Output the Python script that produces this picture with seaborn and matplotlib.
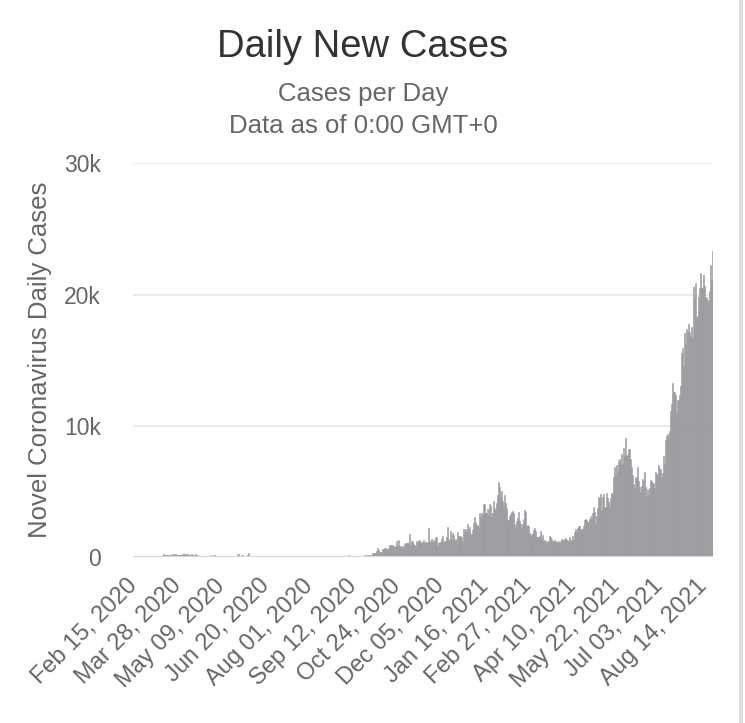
import matplotlib
matplotlib.use("Agg")
import matplotlib.pyplot as plt
import matplotlib.transforms as mtransforms
import numpy as np
import pandas as pd
import seaborn as sns

# daily new cases (starts 2020-02-15)
feb_2020 = [0, 0, 0, 0, 0, 0, 0, 0, 0, 0, 0, 1, 0, 0, 0]
mar_2020 = [0, 4, 7, 14, 5, 28, 10, 0, 18, 1, 10, 11, 1, 41, 190, 125, 120, 117, 110, 130,
            153, 123, 212, 106, 172, 235, 130, 159, 150, 140, 156]
apr_2020 = [142, 208, 217, 217, 179, 131, 170, 156, 109, 118, 184, 153, 134, 170, 85, 110, 69, 54, 84, 36,
            57, 50, 71, 88, 51, 38, 40, 31, 94, 57]
may_2020 = [69, 105, 122, 55, 30, 45, 39, 68, 67, 54, 67, 16, 36, 40, 36, 17, 22, 47, 37, 31,
            50, 78, 48, 60, 172, 187, 15, 10, 103, 30, 38]
jun_2020 = [20, 38, 93, 277, 19, 37, 19, 7, 2, 8, 31, 33, 6, 13, 41, 17, 21, 10, 11, 13,
            21, 15, 4, 4, 4, 3, 6, 4, 2, 6]
jul_2020 = [1, 3, 7, 9, 2, 5, 4, 1, 13, 8, 12, 11, 15, 14, 8, 8, 3, 6, 8, 2,
            7, 5, 15, 23, 20, 10, 18, 4, 8, 17, 9]
aug_2020 = [4, 19, 3, 7, 2, 7, 3, 7, 20, 21, 19, 13, 13, 8, 7, 15, 6, 5, 8, 9,
            5, 9, 15, 14, 19, 12, 15, 5, 7, 2, 3]
sep_2020 = [6, 4, 7, 5, 4, 19, 62, 100, 13, 8, 24, 10, 13, 2, 13, 21, 11, 15, 23, 10,
            57, 82, 147, 71, 111, 82, 115, 150, 101, 89]
oct_2020 = [260, 287, 317, 293, 432, 691, 489, 375, 354, 374, 561, 563, 660, 660, 589, 629, 869, 871, 865, 862,
            732, 847, 710, 1228, 823, 1240, 835, 801, 649, 799, 659]
nov_2020 = [957, 1054, 1054, 1032, 1009, 1755, 852, 1168, 972, 869, 822, 1210, 1109, 1208, 1242, 1041, 1104, 1111, 1290, 1049,
            1096, 1089, 1041, 2188, 1212, 1109, 1315, 1096, 1312, 1109]
dec_2020 = [1472, 851, 1075, 1141, 1123, 1335, 1600, 1123, 1219, 1220, 1478, 2234, 1229, 1371, 1937, 1295, 1772, 1683, 1197, 1340,
            1229, 1884, 1599, 1581, 1526, 1196, 2123, 1887, 2091, 1870, 2525]
jan_2021 = [2068, 2295, 1704, 1741, 2027, 2593, 3027, 2643, 2451, 2433, 2232, 3309, 2985, 3337, 3211, 4029, 3346, 3306, 3631, 3170,
            4008, 3876, 3048, 3346, 4275, 3585, 3680, 4094, 4725, 5728, 5298]
feb_2021 = [4571, 5006, 4284, 3847, 4734, 4114, 3731, 2764, 3100, 3288, 3384, 3499, 3297, 2464, 2176, 2720, 2936, 3405, 2712, 2461,
            2192, 2468, 2875, 3545, 3397, 2253, 2437, 2364]
mar_2021 = [1828, 1555, 1745, 2063, 2154, 1923, 1529, 1470, 1529, 1575, 1924, 1317, 1671, 1208, 1270, 1219, 1063, 1213, 1112, 1575,
            1495, 1314, 1144, 1213, 1275, 1191, 1093, 1166, 1024, 1224, 1384]
apr_2021 = [1238, 1239, 1349, 1401, 1291, 1291, 1139, 1482, 1285, 1294, 1591, 1306, 1889, 2148, 1889, 2195, 2331, 2340, 2078, 2120,
            2341, 2776, 2875, 2827, 2668, 2668, 2848, 3142, 2881, 3332]
may_2021 = [3788, 3418, 2500, 3120, 3744, 4519, 4498, 4765, 3551, 4519, 4765, 3807, 4855, 4446, 4140, 3780, 4446, 4865, 4765, 6075,
            6806, 6320, 6976, 6509, 7289, 7478, 7152, 7857, 7105, 8290, 7748]
jun_2021 = [9020, 7703, 7748, 8209, 7452, 6849, 6241, 5566, 5271, 6100, 5984, 6849, 5793, 5304, 4949, 5419, 5911, 5737, 6440, 5293,
            4611, 5150, 4743, 5244, 5841, 5803, 5586, 5218, 6437, 6276]
jul_2021 = [6200, 6988, 6658, 6658, 6045, 6387, 7654, 7097, 8868, 9180, 9353, 9105, 9574, 11079, 11618, 13215, 12541, 12528, 12366, 10972,
            11985, 12366, 13034, 15573, 15902, 14516, 17045, 16117, 17405, 17170, 17786]
aug_2021 = [17150, 16807, 17500, 16668, 20596, 19819, 20889, 18236, 18384, 19780, 20490, 21668, 20468, 21500, 20670, 19631, 19786, 19550, 19450, 20242,
            22262, 21070, 23300]

y_ticks = [0, 10000, 20000, 30000]
y_tick_labels = ["0", "10k", "20k", "30k"]

cases = (feb_2020 + mar_2020 + apr_2020 + may_2020 + jun_2020 + jul_2020 + aug_2020 + sep_2020
         + oct_2020 + nov_2020 + dec_2020 + jan_2021 + feb_2021 + mar_2021 + apr_2021 + may_2021
         + jun_2021 + jul_2021 + aug_2021)
dates = pd.date_range("2020-02-15", periods=len(cases), freq="D")
df = pd.DataFrame({"day": np.arange(len(cases)), "date": dates, "cases": cases})

bar_color = "#9b9a9f"
grey_text = "#666666"

sns.set_style("white")
plt.rcParams["font.family"] = ["Liberation Sans", "DejaVu Sans"]

fig = plt.figure(figsize=(7.45, 7.23), dpi=100)
ax = fig.add_axes([0.1785, 0.230, 0.7785, 0.544])

for t in y_ticks[1:]:
    ax.axhline(t, color="#e4e4e4", lw=1.1, zorder=0)
# baseline sits on top of the bars, like the original
ax.axhline(0, color="#d6d6dc", lw=1.5, zorder=3)

sns.barplot(data=df, x="day", y="cases", native_scale=True, color=bar_color,
            saturation=1, width=1, errorbar=None, edgecolor=bar_color,
            linewidth=0.4, ax=ax, zorder=2)

ax.set_xlim(-0.5, len(cases) - 0.5)
ax.set_ylim(0, 30000)
sns.despine(ax=ax, left=True, bottom=True)

ax.set_yticks(y_ticks)
ax.set_yticklabels(y_tick_labels)
tick_days = df["day"][::42]
ax.set_xticks(tick_days)
ax.set_xticklabels(df["date"][::42].dt.strftime("%b %d, %Y"), rotation=45,
                   ha="right", rotation_mode="anchor")
ax.tick_params(axis="y", length=0, pad=23, labelsize=16.5, labelcolor=grey_text)
ax.tick_params(axis="x", length=0, pad=13, labelsize=17, labelcolor=grey_text)

# nudge the slanted date labels left so they end just under their tick
shift = mtransforms.ScaledTranslation(-7 / 100, 0, fig.dpi_scale_trans)
for lbl in ax.get_xticklabels():
    lbl.set_transform(lbl.get_transform() + shift)

ax.set_xlabel("")
ax.set_ylabel("Novel Coronavirus Daily Cases", fontsize=18.5, color=grey_text)
ax.yaxis.set_label_coords(-0.14, 0.5)

fig.text(363 / 745, 1 - 57 / 723, "Daily New Cases", ha="center", va="baseline",
         fontsize=27.5, color="#333333")
fig.text(363 / 745, 1 - 101 / 723, "Cases per Day", ha="center", va="baseline",
         fontsize=18.5, color=grey_text)
fig.text(363 / 745, 1 - 133 / 723, "Data as of 0:00 GMT+0", ha="center", va="baseline",
         fontsize=18.5, color=grey_text)

fig.add_artist(plt.Line2D([0.995, 0.995], [0, 1], transform=fig.transFigure,
                          color="#dedede", lw=3))

fig.savefig("out.png", dpi=100, facecolor="white")
